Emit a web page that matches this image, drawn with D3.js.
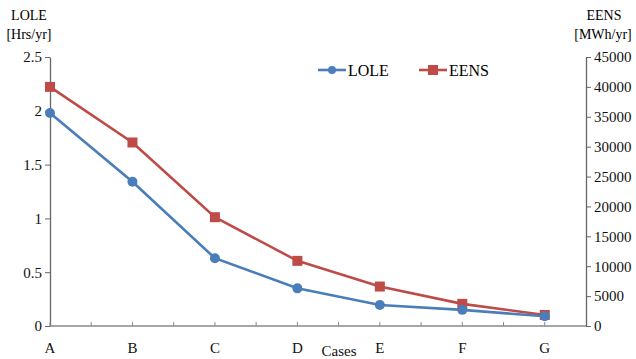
<!DOCTYPE html>
<html>
<head>
<meta charset="utf-8">
<script src="https://cdn.jsdelivr.net/npm/d3@7"></script>
<style>
body{margin:0;background:#fff;}
svg{display:block;font-family:"Liberation Serif","Times New Roman",serif;}
</style>
</head>
<body>
<svg id="chart" width="636" height="359"></svg>
<script>
var cases=["A","B","C","D","E","F","G"];
var lole=[1.98,1.34,0.63,0.35,0.195,0.15,0.09];
var eens=[40000,30700,18200,10900,6600,3700,1850];
var loleTicks=[0,0.5,1,1.5,2,2.5];
var eensTicks=[0,5000,10000,15000,20000,25000,30000,35000,40000,45000];

var svg=d3.select("#chart");
var plotLeft=50, plotRight=586, plotTop=57, plotBottom=326;
var blue="#4a7ebb", red="#be4b48";

var step=(plotRight-plotLeft)/6.5;
var x=d3.scalePoint().domain(cases).range([plotLeft,plotLeft+6*step]);
var yL=d3.scaleLinear().domain([0,2.5]).range([plotBottom,plotTop]);
var yR=d3.scaleLinear().domain([0,45000]).range([plotBottom,plotTop]);

// left axis
var gl=svg.append("g").attr("transform","translate("+plotLeft+",0)")
    .call(d3.axisLeft(yL).tickValues(loleTicks).tickFormat(d3.format("")).tickSize(5).tickSizeOuter(0));
// right axis
var gr=svg.append("g").attr("transform","translate("+plotRight+",0)")
    .call(d3.axisRight(yR).tickValues(eensTicks).tickFormat(d3.format("d")).tickSize(5).tickSizeOuter(0));
[gl,gr].forEach(function(g){
    g.attr("font-family",null);
    g.select(".domain").attr("stroke","#666").attr("stroke-width",1.3);
    g.selectAll(".tick line").attr("stroke","#666");
    g.selectAll(".tick text").attr("font-size",15).attr("fill","#111");
});

// x axis
svg.append("line").attr("x1",plotLeft).attr("x2",plotRight).attr("y1",plotBottom).attr("y2",plotBottom)
    .attr("stroke","#888").attr("stroke-width",1.3);
var halfTicks=d3.range(0,13).map(function(i){return plotLeft+i*step/2;});
svg.selectAll(".xt").data(halfTicks).enter().append("line")
    .attr("x1",function(d){return d;}).attr("x2",function(d){return d;})
    .attr("y1",plotBottom-4).attr("y2",plotBottom).attr("stroke","#888");
svg.selectAll(".xl").data(cases).enter().append("text")
    .attr("x",function(d){return x(d);}).attr("y",353)
    .attr("text-anchor","middle").attr("font-size",15).attr("fill","#111").text(function(d){return d;});
svg.append("text").attr("x",339).attr("y",356).attr("text-anchor","middle")
    .attr("font-size",15).attr("fill","#111").text("Cases");

// axis titles
svg.append("text").attr("x",29).attr("y",20).attr("text-anchor","middle").attr("font-size",14).text("LOLE");
svg.append("text").attr("x",29).attr("y",39).attr("text-anchor","middle").attr("font-size",14).text("[Hrs/yr]");
svg.append("text").attr("x",604).attr("y",20).attr("text-anchor","middle").attr("font-size",14).text("EENS");
svg.append("text").attr("x",603).attr("y",39).attr("text-anchor","middle").attr("font-size",14).text("[MWh/yr]");

// lines
var lineL=d3.line().x(function(d,i){return x(cases[i]);}).y(function(d){return yL(d);});
var lineR=d3.line().x(function(d,i){return x(cases[i]);}).y(function(d){return yR(d);});
svg.append("path").datum(eens).attr("d",lineR).attr("fill","none").attr("stroke",red).attr("stroke-width",2.6);
svg.append("path").datum(lole).attr("d",lineL).attr("fill","none").attr("stroke",blue).attr("stroke-width",2.6);

svg.selectAll(".sq").data(eens).enter().append("rect")
    .attr("x",function(d,i){return x(cases[i])-5;}).attr("y",function(d){return yR(d)-5;})
    .attr("width",10).attr("height",10).attr("fill",red);
svg.selectAll(".ci").data(lole).enter().append("circle")
    .attr("cx",function(d,i){return x(cases[i]);}).attr("cy",function(d){return yL(d);})
    .attr("r",5).attr("fill",blue);

// legend
var lg=svg.append("g");
lg.append("line").attr("x1",318).attr("x2",346).attr("y1",70).attr("y2",70).attr("stroke",blue).attr("stroke-width",2.6);
lg.append("circle").attr("cx",332).attr("cy",70).attr("r",4).attr("fill",blue);
lg.append("text").attr("x",348).attr("y",76).attr("font-size",16).text("LOLE");
lg.append("line").attr("x1",419).attr("x2",447).attr("y1",70).attr("y2",70).attr("stroke",red).attr("stroke-width",2.6);
lg.append("rect").attr("x",428).attr("y",65).attr("width",10).attr("height",10).attr("fill",red);
lg.append("text").attr("x",449).attr("y",76).attr("font-size",16).text("EENS");
</script>
</body>
</html>
